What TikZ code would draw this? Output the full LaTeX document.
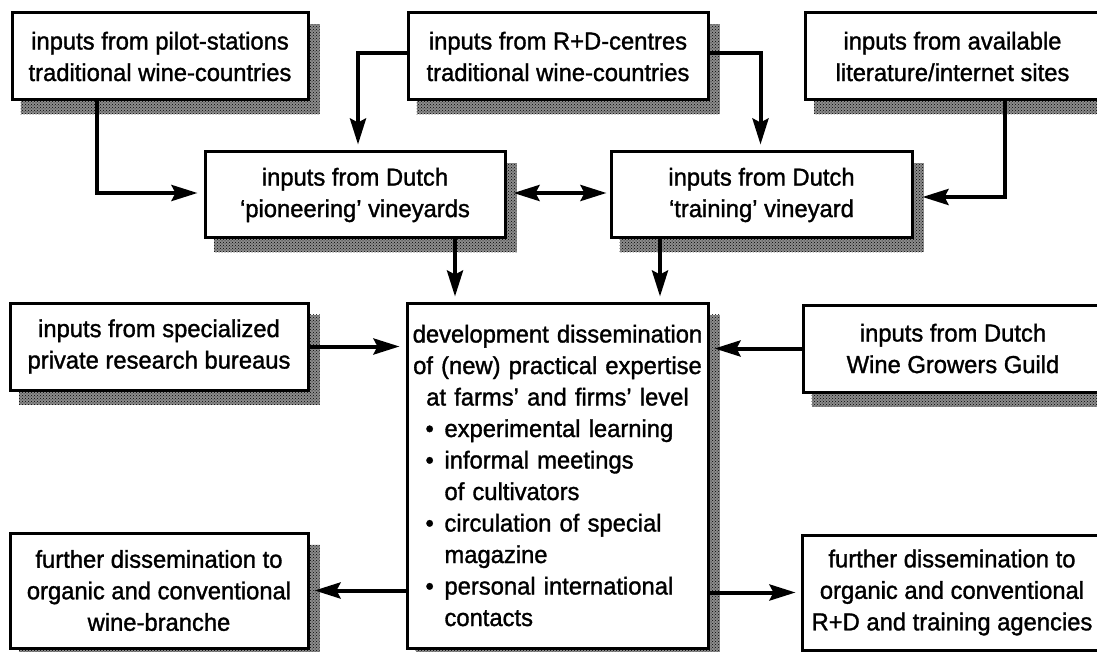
\documentclass[tikz,border=0pt]{standalone}
\usepackage{fontspec}
\setmainfont[FakeStretch=0.97,FakeBold=1.3]{Liberation Sans}
\usetikzlibrary{arrows.meta,calc,backgrounds,patterns}
\begin{document}
\begin{tikzpicture}[x=1pt,y=-1pt,
  box/.style={draw=black, line width=3pt, fill=white, inner sep=0pt,
    align=center, font=\fontsize{24.5pt}{31.5pt}\selectfont},
  flow/.style={line width=4pt, -{Stealth[length=26pt,width=16pt,inset=4pt]}},
  twoway/.style={line width=4pt, {Stealth[length=26pt,width=16pt,inset=4pt]}-{Stealth[length=26pt,width=16pt,inset=4pt]}},
  shade/.style={fill=black!45, postaction={pattern=crosshatch dots, pattern color=black}}]
\useasboundingbox (0,0) rectangle (1097,652);
\clip (0,0) rectangle (1097,652);

% top row
\node[box, minimum width=296, minimum height=87] (pilot) at (160,56.5)
  {inputs from pilot-stations\\traditional wine-countries};
\node[box, minimum width=300, minimum height=87] (rd) at (558,56.5)
  {inputs from R+D-centres\\traditional wine-countries};
\node[box, minimum width=295, minimum height=87] (lit) at (952.5,56.5)
  {inputs from available\\literature/internet sites};

% Dutch vineyards
\node[box, minimum width=300, minimum height=86] (pion) at (355,195)
  {inputs from Dutch\\‘pioneering’ vineyards};
\node[box, minimum width=301, minimum height=86] (train) at (761.5,195)
  {inputs from Dutch\\‘training’ vineyard};

% side inputs
\node[box, minimum width=298, minimum height=87] (spec) at (159,346.5)
  {inputs from specialized\\private research bureaus};
\node[box, minimum width=300, minimum height=87] (guild) at (953,348.5)
  {inputs from Dutch\\Wine Growers Guild};

% central box
\node[box, minimum width=301, minimum height=345, text width=294pt, align=left] (centre) at (557.5,475.5)
  {{\centering development dissemination\\of (new) practical expertise\\at farms’ and firms’ level\par}
   \hspace*{15pt}\makebox[19pt][l]{\textbullet}experimental learning\\
   \hspace*{15pt}\makebox[19pt][l]{\textbullet}informal meetings\\
   \hspace*{34pt}of cultivators\\
   \hspace*{15pt}\makebox[19pt][l]{\textbullet}circulation of special\\
   \hspace*{34pt}magazine\\
   \hspace*{15pt}\makebox[19pt][l]{\textbullet}personal international\\
   \hspace*{34pt}contacts};

% outputs
\node[box, minimum width=298, minimum height=115] (fl) at (159,590.5)
  {further dissemination to\\organic and conventional\\wine-branche};
\node[box, minimum width=300, minimum height=115] (fr) at (952,592.5)
  {further dissemination to\\organic and conventional\\R+D and training agencies};

% drop shadows
\begin{scope}[on background layer]
  \foreach \n in {pilot,rd,lit,pion,train,spec,guild,centre,fl,fr}
    \fill[shade] ($(\n.north west)+(10,13)$) rectangle ($(\n.south east)+(10,13)$);
\end{scope}

% connectors
\draw[flow, shorten >=6pt] ([xshift=-63pt]pilot.south) |- ([yshift=2pt]pion.west);
\draw[flow, shorten >=6pt] ([yshift=3pt]rd.west) -| ([xshift=3pt]pion.north);
\draw[flow, shorten >=6pt] ([yshift=3pt]rd.east) -| ([xshift=-1pt]train.north);
\draw[flow, shorten >=9pt] ([xshift=52pt]lit.south) |- ([yshift=-2pt]train.east);
\draw[twoway, shorten <=7pt, shorten >=3pt] ([yshift=2pt]pion.east) -- ([yshift=2pt]train.west);
\draw[flow, shorten >=5pt] ([xshift=100pt]pion.south) -- ([xshift=100pt]pion.south |- centre.north);
\draw[flow, shorten >=5pt] ([xshift=-101.5pt]train.south) -- ([xshift=-101.5pt]train.south |- centre.north);
\draw[flow, shorten >=6pt] (spec.east) -- (centre.west |- spec.east);
\draw[flow, shorten >=5pt] (guild.west) -- (centre.east |- guild.west);
\draw[flow, shorten >=5pt] (centre.west |- fl.east) -- (fl.east);
\draw[flow, shorten >=5pt] (centre.east |- fr.west) -- (fr.west);
\end{tikzpicture}
\end{document}
